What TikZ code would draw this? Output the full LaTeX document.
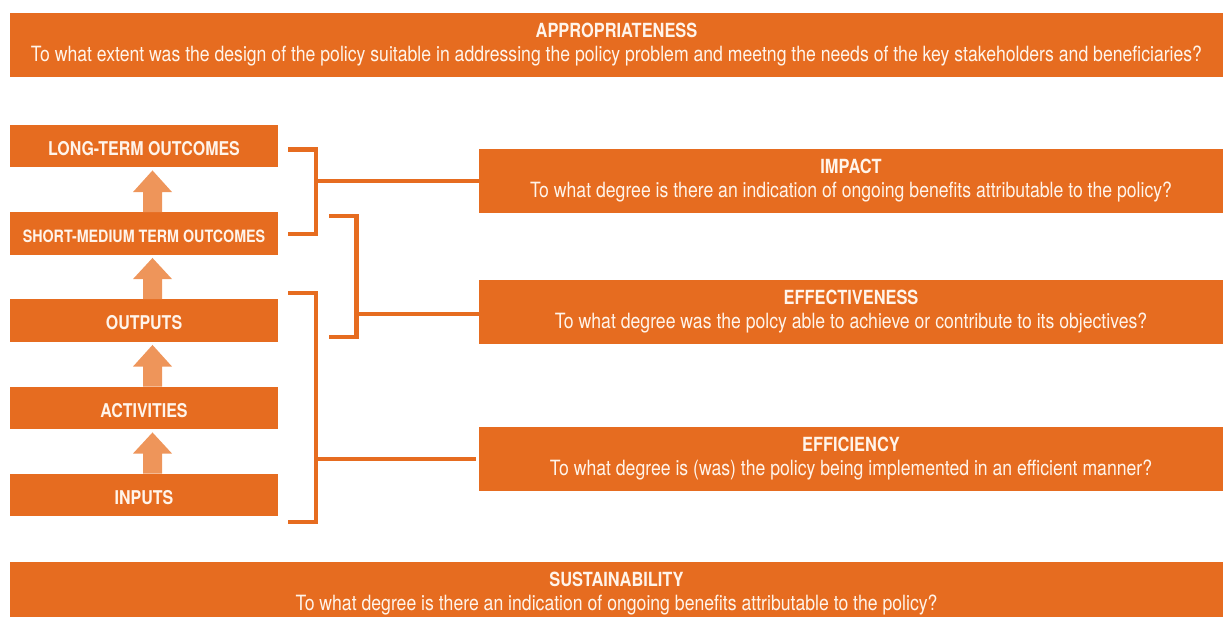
\documentclass[tikz,border=0pt]{standalone}
\usepackage{fontspec}
\setmainfont{TeX Gyre Heros}[FakeStretch=0.84]
\usetikzlibrary{calc}
\definecolor{boxorange}{HTML}{E66C20}
\definecolor{arroworange}{HTML}{EE955A}
\definecolor{labelwhite}{HTML}{FFF4EA}

% upward block arrow from a lower stage (#1) to the stage above it (#2)
\newcommand\stagearrow[2]{%
  \fill[upstep] ($(#1.north)+(-1,0)$) -- ++(0,-20) -- ++(-10,0)
    -- ($(#2.south)+(8.5,3)$) -- ($(#1.north)+(28,-20)$)
    -- ++(-10,0) -- ++(0,20) -- cycle;}
% bold heading line inside a criterion box
\newcommand\crithead[1]{{\bfseries\fontsize{19.5}{24}\selectfont #1}}

\begin{document}
\begin{tikzpicture}[x=1pt,y=-1pt,
  box/.style={fill=boxorange, draw=none, inner sep=0pt, text=labelwhite,
    align=center, font=\fontsize{21}{24}\selectfont},
  stage/.style={box, minimum width=268pt, minimum height=42.5pt,
    text height=19pt, text depth=0pt,
    font=\bfseries\fontsize{19}{22}\selectfont},
  crit/.style={box, minimum width=744pt, minimum height=64pt},
  wide/.style={box, minimum width=1213pt, minimum height=64pt},
  link/.style={draw=boxorange, line width=4.5pt, line cap=butt, line join=miter},
  upstep/.style={fill=arroworange, draw=none}]

\useasboundingbox (0,0) rectangle (1223,617);

% overarching criteria
\node[wide] (approp) at (616.5,45)
  {\crithead{APPROPRIATENESS}\\To what extent was the design of the policy suitable in addressing the policy problem and meetng the needs of the key stakeholders and beneficiaries?};
\node[wide] (sustain) at (616.5,594)
  {\crithead{SUSTAINABILITY}\\To what degree is there an indication of ongoing benefits attributable to the policy?};

% results chain
\node[stage] (lt)  at (144,146)   {LONG-TERM OUTCOMES};
\node[stage, font=\bfseries\fontsize{17}{20}\selectfont] (sm) at (144,233.5) {SHORT-MEDIUM TERM OUTCOMES};
\node[stage] (out) at (144,320.5) {OUTPUTS};
\node[stage] (act) at (144,408)   {ACTIVITIES};
\node[stage] (inp) at (144,495)   {INPUTS};

\stagearrow{sm}{lt}
\stagearrow{out}{sm}
\stagearrow{act}{out}
\stagearrow{inp}{act}

% evaluation criteria
\node[crit] (impact) at (851,181)
  {\crithead{IMPACT}\\To what degree is there an indication of ongoing benefits attributable to the policy?};
\node[crit] (effect) at (851,312)
  {\crithead{EFFECTIVENESS}\\To what degree was the polcy able to achieve or contribute to its objectives?};
\node[crit] (effic) at (851,459)
  {\crithead{EFFICIENCY}\\To what degree is (was) the policy being implemented in an efficient manner?};

% brackets grouping stages, joined to the criteria
\coordinate (j1) at (316,181);
\coordinate (j2) at (356.5,314);
\coordinate (j3) at (316,459);
\draw[link] (288,149.5) -| (316,234) -- (288,234);
\draw[link] (j1) -- (j1 -| impact.west);
\draw[link] (329,216) -| (356.5,337) -- (329,337);
\draw[link] (j2) -- (j2 -| effect.west);
\draw[link] (288,293) -| (316,522) -- (288,522);
\draw[link] (j3) -- ($(j3 -| effic.west)+(-3,0)$);
\end{tikzpicture}
\end{document}
